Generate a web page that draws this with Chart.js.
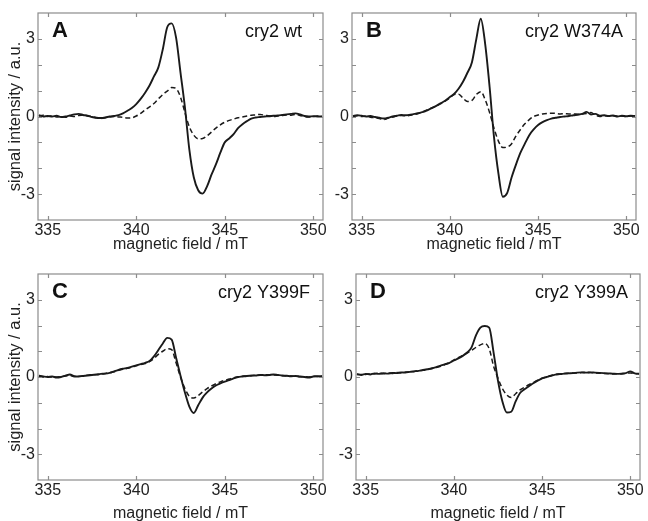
<!DOCTYPE html>
<html>
<head>
<meta charset="utf-8">
<script src="https://cdn.jsdelivr.net/npm/chart.js@4.4.1/dist/chart.umd.min.js"></script>
<style>
  html, body { margin: 0; padding: 0; background: #fff; }
  #wrap { position: relative; width: 648px; height: 521px; overflow: hidden; }
  .panel { position: absolute; }
</style>
</head>
<body>
<div id="wrap">
  <div class="panel" style="left:0;top:0"><canvas id="chartA" width="330" height="260"></canvas></div>
  <div class="panel" style="left:318px;top:0"><canvas id="chartB" width="330" height="260"></canvas></div>
  <div class="panel" style="left:0;top:260px"><canvas id="chartC" width="330" height="261"></canvas></div>
  <div class="panel" style="left:318px;top:260px"><canvas id="chartD" width="330" height="261"></canvas></div>
</div>
<script>
"use strict";

// magnetic field (mT), shared by all traces
const field = [
  334.5, 334.75,
  335, 335.25, 335.5, 335.75, 336, 336.25, 336.5, 336.75,
  337, 337.25, 337.5, 337.75, 338, 338.25, 338.5, 338.75,
  339, 339.25, 339.5, 339.75, 340, 340.25, 340.5, 340.75,
  341, 341.25, 341.5, 341.75, 342, 342.25, 342.5, 342.75,
  343, 343.25, 343.5, 343.75, 344, 344.25, 344.5, 344.75,
  345, 345.25, 345.5, 345.75, 346, 346.25, 346.5, 346.75,
  347, 347.25, 347.5, 347.75, 348, 348.25, 348.5, 348.75,
  349, 349.25, 349.5, 349.75, 350, 350.25, 350.5
];

const xTicks = [335, 340, 345, 350];
const yLabelled = [-3, 0, 3];

// A: cry2 wt
const wtSolid = [
  0.05, 0.00,
  0.02, 0.00, 0.03, -0.02, 0.00, 0.04, 0.08, 0.10,
  0.06, 0.03, -0.02, -0.05, -0.06, -0.04, 0.00, 0.02,
  0.05, 0.12, 0.22, 0.33, 0.48, 0.68, 0.92, 1.20,
  1.55, 1.90, 2.60, 3.45, 3.60, 3.05, 1.70, 0.35,
  -1.28, -2.35, -2.85, -2.98, -2.70, -2.25, -1.85, -1.40,
  -1.00, -0.85, -0.68, -0.45, -0.30, -0.18, -0.08, -0.04,
  -0.02, 0.00, 0.01, 0.03, 0.04, 0.06, 0.08, 0.10,
  0.12, 0.08, 0.02, 0.00, 0.01, 0.00, 0.00
];
const wtDashed = [
  0.02, 0.05,
  0.00, 0.03, -0.02, 0.00, -0.03, 0.02, 0.00, 0.04,
  0.06, 0.02, 0.00, -0.05, -0.08, -0.05, -0.02, 0.00,
  -0.02, -0.03, -0.06, -0.05, 0.02, 0.12, 0.25, 0.37,
  0.50, 0.68, 0.85, 0.98, 1.12, 1.08, 0.75, 0.15,
  -0.40, -0.72, -0.86, -0.85, -0.75, -0.60, -0.45, -0.32,
  -0.22, -0.15, -0.10, -0.05, -0.02, 0.02, 0.05, 0.06,
  0.08, 0.05, 0.03, 0.00, 0.02, 0.04, 0.06, 0.05,
  0.08, 0.04, 0.00, -0.02, 0.00, 0.02, 0.00
];

// B: cry2 W374A
const w374aSolid = [
  0.02, 0.05,
  0.03, 0.00, 0.02, -0.02, -0.05, -0.08, -0.05, 0.00,
  0.03, 0.06, 0.05, 0.07, 0.10, 0.14, 0.18, 0.25,
  0.33, 0.42, 0.52, 0.62, 0.75, 0.88, 1.08, 1.35,
  1.70, 2.10, 3.00, 3.78, 2.80, 1.15, -0.80, -2.20,
  -3.10, -2.95, -2.35, -1.85, -1.40, -1.05, -0.72, -0.50,
  -0.33, -0.22, -0.14, -0.08, -0.05, -0.02, 0.00, 0.02,
  0.05, 0.07, 0.10, 0.18, 0.08, 0.10, 0.03, 0.05,
  0.02, 0.04, 0.00, 0.03, 0.01, 0.03, 0.02
];
const w374aDashed = [
  0.00, 0.03,
  0.00, 0.02, -0.03, -0.05, -0.08, -0.12, -0.06, -0.02,
  0.02, 0.04, 0.02, 0.05, 0.08, 0.12, 0.20, 0.27,
  0.34, 0.42, 0.50, 0.60, 0.72, 0.85, 0.86, 0.70,
  0.58, 0.62, 0.85, 0.96, 0.65, 0.15, -0.45, -0.95,
  -1.20, -1.18, -1.05, -0.75, -0.50, -0.28, -0.12, 0.00,
  0.06, 0.10, 0.12, 0.13, 0.12, 0.10, 0.11, 0.10,
  0.10, 0.09, 0.10, 0.12, 0.15, 0.05, 0.00, 0.03,
  0.01, 0.03, 0.01, 0.02, 0.00, 0.02, 0.01
];

// C: cry2 Y399F
const y399fSolid = [
  0.05, 0.02,
  0.00, 0.02, -0.02, 0.00, 0.05, 0.10, 0.03, 0.02,
  0.04, 0.06, 0.08, 0.10, 0.12, 0.13, 0.16, 0.22,
  0.28, 0.32, 0.35, 0.40, 0.45, 0.50, 0.55, 0.62,
  0.80, 1.05, 1.30, 1.52, 1.45, 0.75, 0.05, -0.60,
  -1.15, -1.40, -1.10, -0.80, -0.60, -0.45, -0.33, -0.25,
  -0.18, -0.12, -0.05, 0.00, 0.02, 0.04, 0.05, 0.06,
  0.08, 0.07, 0.08, 0.10, 0.08, 0.06, 0.05, 0.03,
  0.04, 0.02, 0.00, -0.02, 0.02, 0.03, 0.03
];
const y399fDashed = [
  0.03, 0.00,
  0.02, -0.01, 0.00, 0.02, 0.04, 0.06, 0.02, 0.03,
  0.05, 0.07, 0.09, 0.09, 0.11, 0.14, 0.17, 0.20,
  0.26, 0.30, 0.34, 0.38, 0.44, 0.48, 0.52, 0.60,
  0.72, 0.88, 1.00, 1.10, 1.06, 0.55, 0.00, -0.45,
  -0.75, -0.82, -0.72, -0.58, -0.45, -0.35, -0.26, -0.19,
  -0.13, -0.08, -0.03, 0.00, 0.03, 0.04, 0.06, 0.07,
  0.07, 0.08, 0.09, 0.08, 0.07, 0.05, 0.04, 0.04,
  0.03, 0.01, 0.01, 0.00, 0.03, 0.02, 0.04
];

// D: cry2 Y399A
const y399aSolid = [
  0.10, 0.08,
  0.12, 0.10, 0.14, 0.12, 0.15, 0.13, 0.16, 0.15,
  0.18, 0.17, 0.20, 0.22, 0.24, 0.27, 0.30, 0.33,
  0.38, 0.44, 0.50, 0.55, 0.64, 0.72, 0.82, 0.95,
  1.15, 1.62, 1.92, 1.98, 1.92, 0.95, -0.15, -0.95,
  -1.38, -1.35, -0.95, -0.62, -0.48, -0.36, -0.24, -0.14,
  -0.05, 0.00, 0.05, 0.09, 0.11, 0.13, 0.14, 0.15,
  0.17, 0.18, 0.17, 0.18, 0.17, 0.16, 0.15, 0.14,
  0.13, 0.12, 0.13, 0.15, 0.22, 0.14, 0.13
];
const y399aDashed = [
  0.12, 0.10,
  0.10, 0.13, 0.12, 0.15, 0.13, 0.15, 0.14, 0.17,
  0.16, 0.19, 0.20, 0.21, 0.25, 0.26, 0.29, 0.34,
  0.37, 0.42, 0.48, 0.56, 0.66, 0.75, 0.84, 0.93,
  1.03, 1.15, 1.25, 1.30, 1.10, 0.42, -0.05, -0.45,
  -0.70, -0.80, -0.65, -0.50, -0.40, -0.30, -0.22, -0.12,
  -0.05, 0.00, 0.05, 0.10, 0.12, 0.14, 0.15, 0.16,
  0.16, 0.17, 0.18, 0.17, 0.16, 0.15, 0.14, 0.13,
  0.12, 0.13, 0.12, 0.14, 0.16, 0.13, 0.12
];

const FONT = "'Liberation Sans', Arial, Helvetica, sans-serif";
const INK = "#1a1a1a";
const FRAME = "#8c8c8c";

const panels = [
  { id: "chartA", letter: "A", name: "cry2 wt", solid: wtSolid, dashed: wtDashed,
    yTitle: true, yWidth: 38, xHeight: 40, pad: { top: 13, right: 7 }, titleBottom: 6, nameInset: 21 },
  { id: "chartB", letter: "B", name: "cry2 W374A", solid: w374aSolid, dashed: w374aDashed,
    yTitle: false, yWidth: 34, xHeight: 40, pad: { top: 13, right: 12 }, titleBottom: 6, nameInset: 13 },
  { id: "chartC", letter: "C", name: "cry2 Y399F", solid: y399fSolid, dashed: y399fDashed,
    yTitle: true, yWidth: 38, xHeight: 41, pad: { top: 14, right: 7 }, titleBottom: -2, nameInset: 13 },
  { id: "chartD", letter: "D", name: "cry2 Y399A", solid: y399aSolid, dashed: y399aDashed,
    yTitle: false, yWidth: 38, xHeight: 41, pad: { top: 14, right: 8 }, titleBottom: -2, nameInset: 12 }
];

function toPoints(ys) {
  return field.map((x, i) => ({ x: x, y: ys[i] }));
}

// box frame, inward tick marks, panel letter and sample name
function framePlugin(p) {
  return {
    id: "frame" + p.letter,
    afterDraw(chart) {
      const ctx = chart.ctx;
      const a = chart.chartArea;
      const xs = chart.scales.x, ys = chart.scales.y;
      ctx.save();
      ctx.strokeStyle = FRAME;
      ctx.lineWidth = 1.2;
      ctx.strokeRect(a.left, a.top, a.right - a.left, a.bottom - a.top);
      ctx.beginPath();
      ys.ticks.forEach(t => {
        if (t.value <= ys.min || t.value >= ys.max) return;
        const y = Math.round(ys.getPixelForValue(t.value)) + 0.5;
        ctx.moveTo(a.left, y); ctx.lineTo(a.left + 4, y);
        ctx.moveTo(a.right, y); ctx.lineTo(a.right - 4, y);
      });
      xs.ticks.forEach(t => {
        const x = Math.round(xs.getPixelForValue(t.value)) + 0.5;
        ctx.moveTo(x, a.bottom); ctx.lineTo(x, a.bottom - 4);
        ctx.moveTo(x, a.top); ctx.lineTo(x, a.top + 4);
      });
      ctx.stroke();

      ctx.fillStyle = "#111";
      ctx.textBaseline = "middle";
      ctx.textAlign = "left";
      ctx.font = "bold 22px " + FONT;
      ctx.fillText(p.letter, a.left + 14, a.top + 18);
      ctx.textAlign = "right";
      ctx.font = "18px " + FONT;
      ctx.fillText(p.name, a.right - p.nameInset, a.top + 19.5);
      ctx.restore();
    }
  };
}

panels.forEach(p => {
  const ctx = document.getElementById(p.id).getContext("2d");
  new Chart(ctx, {
    type: "line",
    data: {
      datasets: [
        {
          label: p.name + " (dashed)",
          data: toPoints(p.dashed),
          borderColor: INK,
          borderWidth: 1.5,
          borderDash: [5, 3],
          pointRadius: 0,
          cubicInterpolationMode: "monotone",
          fill: false
        },
        {
          label: p.name,
          data: toPoints(p.solid),
          borderColor: INK,
          borderWidth: 1.9,
          pointRadius: 0,
          cubicInterpolationMode: "monotone",
          fill: false
        }
      ]
    },
    options: {
      responsive: false,
      animation: false,
      layout: { padding: { top: p.pad.top, right: p.pad.right, left: 0, bottom: 0 } },
      plugins: {
        legend: { display: false },
        tooltip: { enabled: false }
      },
      scales: {
        x: {
          type: "linear",
          min: 334.45,
          max: 350.55,
          afterBuildTicks: scale => { scale.ticks = xTicks.map(v => ({ value: v })); },
          afterFit: scale => { scale.height = p.xHeight; },
          ticks: {
            padding: 1,
            color: "#222",
            font: { family: FONT, size: 16 },
            maxRotation: 0,
            callback: v => String(v)
          },
          grid: { display: false, drawTicks: false },
          border: { display: false },
          title: {
            display: true,
            text: "magnetic field / mT",
            color: "#222",
            font: { family: FONT, size: 16 },
            padding: { top: 0, bottom: p.titleBottom }
          }
        },
        y: {
          type: "linear",
          min: -4,
          max: 4,
          afterFit: scale => { scale.width = p.yWidth; },
          ticks: {
            stepSize: 1,
            padding: 3,
            color: "#222",
            font: { family: FONT, size: 16 },
            callback: v => (yLabelled.includes(v) ? String(v) : "")
          },
          grid: { display: false, drawTicks: false },
          border: { display: false },
          title: {
            display: p.yTitle,
            text: "signal intensity / a.u.",
            color: "#222",
            font: { family: FONT, size: 16.5 },
            padding: { top: 6, bottom: 0 }
          }
        }
      }
    },
    plugins: [framePlugin(p)]
  });
});
</script>
</body>
</html>
